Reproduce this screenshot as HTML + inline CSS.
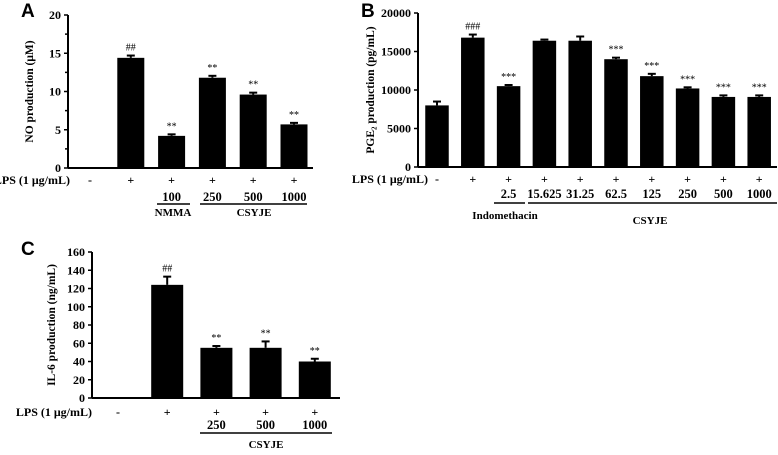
<!DOCTYPE html>
<html><head><meta charset="utf-8"><style>
body{margin:0;background:#fff;}
svg text{font-family:"Liberation Serif",serif;font-weight:bold;fill:#000;}
</style></head><body>
<svg id="fig" width="778" height="450" xmlns="http://www.w3.org/2000/svg"></svg>
<script>
const catsA=["-","+","+","+","+","+"];
const doseA=["","","100","250","500","1000"];
const valsA=[0,14.4,4.2,11.8,9.6,5.7];
const errA=[0,0.3,0.2,0.25,0.25,0.2];
const sigA=["","##","**","**","**","**"];
const ticksA=[0,5,10,15,20];

const catsB=["-","+","+","+","+","+","+","+","+","+"];
const doseB=["","","2.5","15.625","31.25","62.5","125","250","500","1000"];
const valsB=[8000,16800,10500,16400,16400,14000,11800,10200,9100,9100];
const errB=[500,400,150,150,550,200,300,150,200,200];
const sigB=["","###","***","","","***","***","***","***","***"];
const ticksB=[0,5000,10000,15000,20000];

const catsC=["-","+","+","+","+"];
const doseC=["","","250","500","1000"];
const valsC=[0,124,55,55,40];
const errC=[0,9,2,7,3];
const sigC=["","##","**","**","**"];
const ticksC=[0,20,40,60,80,100,120,140,160];

const NS="http://www.w3.org/2000/svg";
const svg=document.getElementById('fig');
function el(tag,attrs,txt){const e=document.createElementNS(NS,tag);for(const k in attrs)e.setAttribute(k,attrs[k]);if(txt!==undefined)e.textContent=txt;svg.appendChild(e);return e;}

function panel(p){
  const yS=v=>p.y0-(v/p.max)*(p.y0-p.y1);
  const xS=i=>p.xc0+i*p.step;
  let e=el('text',{x:p.lx,y:p.ly,'font-size':19,style:'font-family:"Liberation Sans",sans-serif;font-weight:bold'},p.letter);
  
  
  e=el('line',{x1:p.ax,y1:p.y1,x2:p.ax,y2:p.y0,stroke:'#000','stroke-width':2});
  
  
  e=el('line',{x1:p.ax,y1:p.y0,x2:p.axEnd,y2:p.y0,stroke:'#000','stroke-width':2});
  
  
  p.ticks.forEach((t,k)=>{
    const y=yS(t);
    let l=el('line',{x1:p.ax-4,y1:y,x2:p.ax,y2:y,stroke:'#000','stroke-width':1.5});
    
    
    let tx=el('text',{x:p.ax-7,y:y+4,'font-size':12,'text-anchor':'end'},t);
    
    
    if(p.minor&&k<p.ticks.length-1){const ym=yS((t+p.ticks[k+1])/2);
      let m=el('line',{x1:p.ax-3,y1:ym,x2:p.ax,y2:ym,stroke:'#000','stroke-width':1.5});
      
      }
  });
  const cy=(p.y0+p.y1)/2;
  e=el('text',{x:p.tx,y:cy,'font-size':11.5,'text-anchor':'middle',transform:`rotate(-90 ${p.tx} ${cy})`},p.title);
  
  
  e=el('text',{x:p.lpsX,y:p.lpsY,'font-size':12,'text-anchor':'end'},'LPS (1 μg/mL)');
  
  
  p.vals.forEach((v,i)=>{
    const x=xS(i);
    if(v>0){
      let b=el('rect',{x:x-p.bw/2,y:yS(v),width:p.bw,height:p.y0-yS(v),fill:'#000'});
      
      
      const ye=yS(v+p.err[i]);
      let eb=el('line',{x1:x,y1:ye,x2:x,y2:yS(v),stroke:'#000','stroke-width':2});
      
      
      let cap=el('line',{x1:x-4,y1:ye,x2:x+4,y2:ye,stroke:'#000','stroke-width':2});
      
      
      if(p.sig[i]){let s=el('text',{x:x,y:ye-5,'font-size':10,'text-anchor':'middle',style:'font-weight:normal'},p.sig[i]);
        
        }
    }
    let c=el('text',{x:x,y:p.lpsY,'font-size':12,'text-anchor':'middle'},p.cats[i]);
    
    
    if(p.dose[i]){let d=el('text',{x:x,y:p.doseY,'font-size':12.5,'text-anchor':'middle'},p.dose[i]);
      
      }
  });
  p.groups.forEach(g=>{
    let l=el('line',{x1:g.x1,y1:p.ulY,x2:g.x2,y2:p.ulY,stroke:'#000','stroke-width':1.5});
    
    
    let t=el('text',{x:g.tx,y:g.ty,'font-size':11,'text-anchor':'middle'},g.label);
    
    
  });
}

panel({id:'a',letter:'A',lx:21,ly:17,ax:68,axEnd:313,y0:168,y1:15,max:20,ticks:ticksA,minor:true,
  xc0:90,step:40.8,bw:27,vals:valsA,err:errA,sig:sigA,cats:catsA,dose:doseA,
  title:'NO production  (μM)',tx:33,lpsX:70,lpsY:184,doseY:201,ulY:204,
  groups:[{x1:157,x2:190,label:'NMMA',tx:173,ty:216},{x1:200,x2:307,label:'CSYJE',tx:254,ty:216}]});

panel({id:'b',letter:'B',lx:361,ly:17,ax:418,axEnd:777,y0:167,y1:13,max:20000,ticks:ticksB,minor:false,
  xc0:437,step:35.8,bw:23.5,vals:valsB,err:errB,sig:sigB,cats:catsB,dose:doseB,
  title:'PGE₂ production  (pg/mL)',tx:374,lpsX:428,lpsY:183,doseY:198,ulY:203,
  groups:[{x1:494,x2:525,label:'Indomethacin',tx:505,ty:219},{x1:528,x2:777,label:'CSYJE',tx:650,ty:224}]});

panel({id:'c',letter:'C',lx:21,ly:255,ax:92,axEnd:340,y0:398,y1:252,max:160,ticks:ticksC,minor:false,
  xc0:118,step:49.2,bw:32,vals:valsC,err:errC,sig:sigC,cats:catsC,dose:doseC,
  title:'IL-6 production  (ng/mL)',tx:55,lpsX:92,lpsY:416,doseY:429,ulY:433,
  groups:[{x1:200,x2:332,label:'CSYJE',tx:266,ty:448}]});
</script>
</body></html>
